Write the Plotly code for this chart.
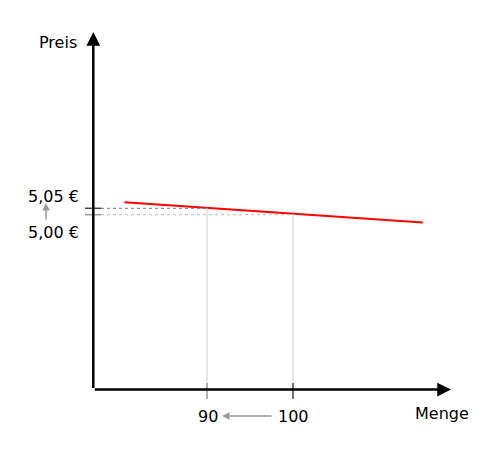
import plotly.graph_objects as go

# Data
demand_q = [80.4, 115.1]
demand_p = [5.098, 4.940]
q_ticks = [90, 100]
q_labels = ["90", "100"]
p_ticks = [5.05, 5.00]
p_labels = ["5,05 €", "5,00 €"]
# intersection prices for the guide lines
q_guide_p = [5.054, 5.008]
p_guide_q = [90, 100]

# scale (data units per pixel) so the picture matches layout
PX_PER_Q = 8.6
PX_PER_P = 128.0
Q_REF, PX_Q_REF = 90, 207
P_REF, PY_P_REF = 5.00, 214.7
W, H = 500, 467
OFF = 8  # page body margin

def qx(px):
    return Q_REF + (px - PX_Q_REF) / PX_PER_Q

def py_(py):
    return P_REF + (PY_P_REF - py) / PX_PER_P

X0, X1 = qx(OFF), qx(OFF + W)
Y0, Y1 = py_(OFF + H), py_(OFF)
OQ, OP = qx(93.3), py_(389.5)
Q_TIP, P_TIP = qx(451), py_(32)

fig = go.Figure()
fig.add_trace(go.Scatter(x=demand_q, y=demand_p, mode="lines",
                         line=dict(color="#ff0000", width=2), hoverinfo="skip"))

shapes = []
tick_colors_q = ["#999999", "#444444"]
for q, gp, c in zip(q_ticks, q_guide_p, tick_colors_q):
    shapes.append(dict(type="line", x0=q, x1=q, y0=OP, y1=gp,
                       line=dict(color="#cccccc", width=1)))
    shapes.append(dict(type="line", x0=q, x1=q, y0=py_(383), y1=py_(399),
                       line=dict(color=c, width=1.5)))
tick_colors_p = ["#444444", "#999999"]
dot_colors_p = ["#777777", "#bbbbbb"]
for p, gq, c, dc in zip(p_ticks, p_guide_q, tick_colors_p, dot_colors_p):
    shapes.append(dict(type="line", x0=qx(85), x1=qx(101), y0=p, y1=p,
                       line=dict(color=c, width=1.5)))
    shapes.append(dict(type="line", x0=qx(101), x1=gq, y0=p, y1=p,
                       line=dict(color=dc, width=1, dash="dot")))

ann = []
# axes with arrows
ann.append(dict(x=OQ, y=P_TIP, ax=OQ, ay=OP, xref="x", yref="y", axref="x", ayref="y",
                showarrow=True, arrowhead=2, arrowsize=1.1, arrowwidth=2.5,
                arrowcolor="black", text=""))
ann.append(dict(x=Q_TIP, y=OP, ax=OQ, ay=OP, xref="x", yref="y", axref="x", ayref="y",
                showarrow=True, arrowhead=2, arrowsize=1.1, arrowwidth=2.5,
                arrowcolor="black", text=""))
font = dict(family="DejaVu Sans", size=16, color="black")
for q, lab in zip(q_ticks, q_labels):
    ann.append(dict(x=q + 0.1, y=py_(416), text=lab, showarrow=False, font=font,
                    xref="x", yref="y"))
for p, lab, ypx in zip(p_ticks, p_labels, [196, 232]):
    ann.append(dict(x=qx(53), y=py_(ypx), text=lab, showarrow=False, font=font,
                    xref="x", yref="y"))
ann.append(dict(x=qx(58), y=py_(42), text="Preis", showarrow=False, font=font))
ann.append(dict(x=qx(442), y=py_(413), text="Menge", showarrow=False, font=font))
# change arrows
ann.append(dict(x=qx(222), y=py_(416), ax=qx(273), ay=py_(416), xref="x", yref="y",
                axref="x", ayref="y", showarrow=True, arrowhead=2, arrowsize=1,
                arrowwidth=1.5, arrowcolor="#999999", text=""))
ann.append(dict(x=qx(46), y=py_(203), ax=qx(46), ay=py_(221), xref="x", yref="y",
                axref="x", ayref="y", showarrow=True, arrowhead=2, arrowsize=1,
                arrowwidth=1.5, arrowcolor="#999999", text=""))

fig.update_layout(
    width=W, height=H, margin=dict(l=0, r=0, t=0, b=0),
    paper_bgcolor="white", plot_bgcolor="white", showlegend=False,
    xaxis=dict(range=[X0, X1], visible=False, fixedrange=True),
    yaxis=dict(range=[Y0, Y1], visible=False, fixedrange=True),
    shapes=shapes, annotations=ann,
)
fig.write_html("out.html")
